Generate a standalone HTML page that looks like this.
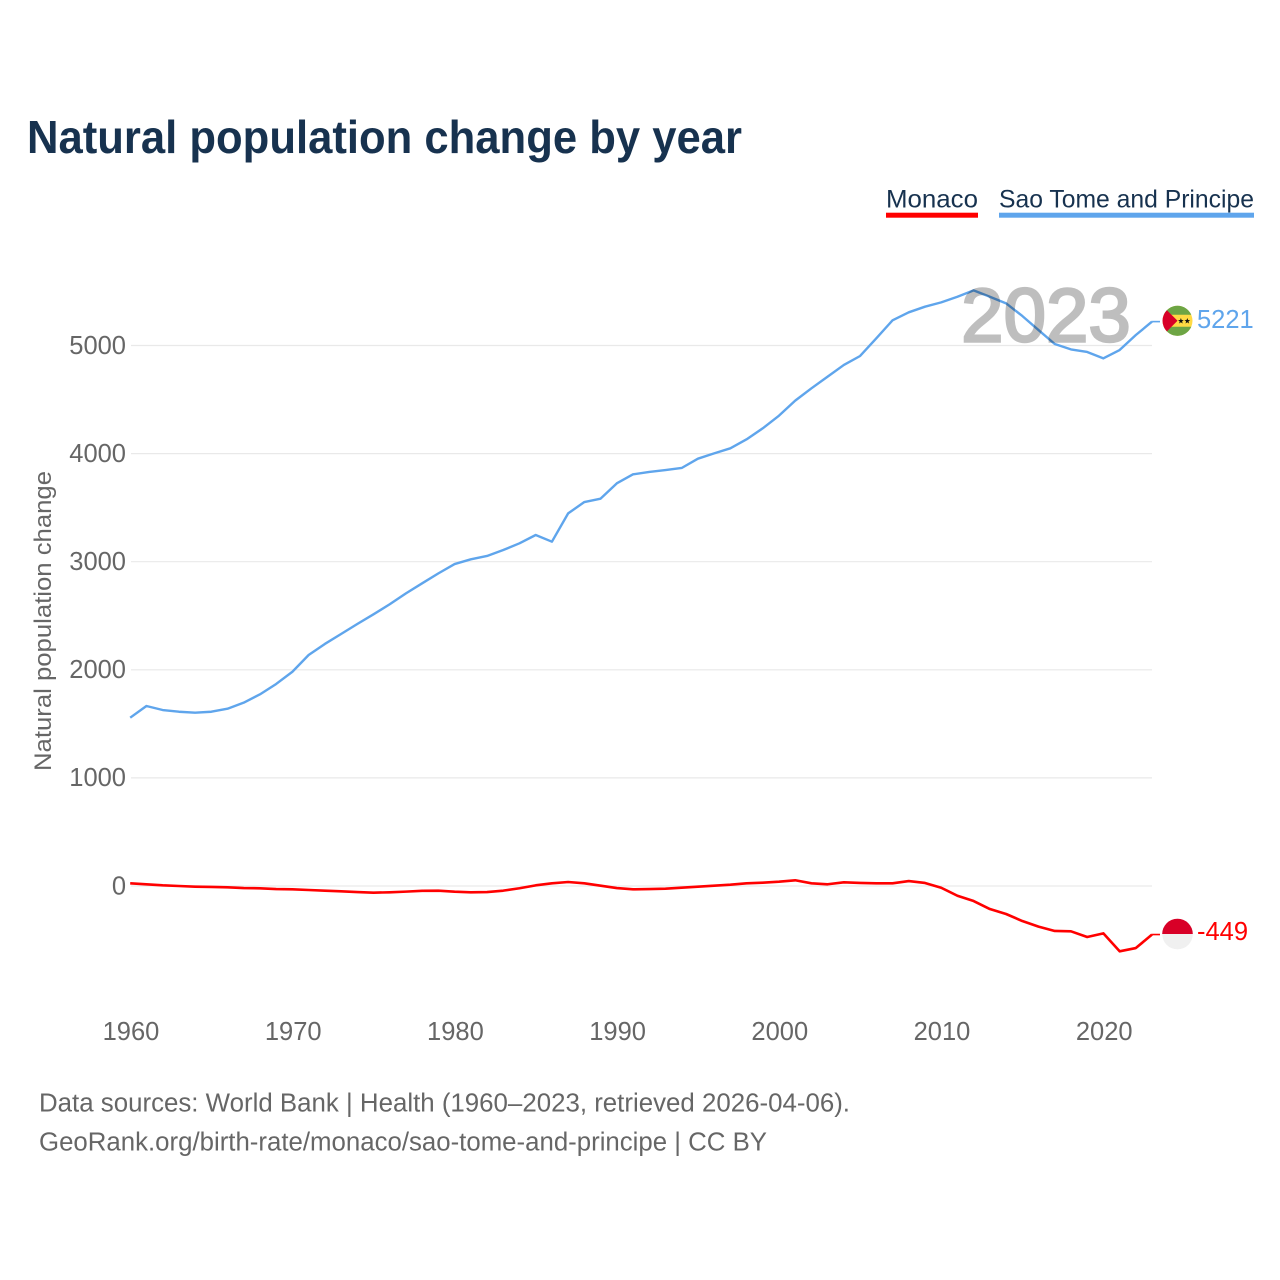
<!DOCTYPE html>
<html lang="en">
<head>
<meta charset="utf-8">
<title>Natural population change by year</title>
<style>
html,body{margin:0;padding:0;background:#fff;width:1280px;height:1280px;overflow:hidden}
svg{display:block;font-family:"Liberation Sans",Arial,sans-serif}
</style>
</head>
<body>
<svg id="chart" width="1280" height="1280" viewBox="0 0 1280 1280" xmlns="http://www.w3.org/2000/svg">
  <rect width="1280" height="1280" fill="#fff"/>
  <text x="27" y="153" font-size="46" font-weight="700" fill="#17324f" textLength="715" lengthAdjust="spacingAndGlyphs">Natural population change by year</text>

  <g>
    <text x="886" y="207.3" font-size="25" fill="#17324f" textLength="92" lengthAdjust="spacingAndGlyphs">Monaco</text>
    <rect x="886" y="212.7" width="92" height="5" fill="#ff0000"/>
  </g>
  <g>
    <text x="999" y="207.3" font-size="25" fill="#17324f" textLength="255" lengthAdjust="spacingAndGlyphs">Sao Tome and Principe</text>
    <rect x="999" y="212.7" width="255" height="5" fill="#5fa5ec"/>
  </g>

  <text transform="translate(51,771) rotate(-90)" font-size="24.5" fill="#666" textLength="300" lengthAdjust="spacingAndGlyphs">Natural population change</text>

  <g id="grid"></g>
  <g id="yticks"></g>
  <g id="xticks"></g>
  <g id="series"></g>
  <g id="ends"></g>

  <text x="961.2" y="341.5" font-size="76" fill="#000" stroke="#000" stroke-width="2.5" opacity="0.25" textLength="169.6" lengthAdjust="spacingAndGlyphs">2023</text>

  <text x="39" y="1111.5" font-size="25.5" fill="#666" textLength="811" lengthAdjust="spacingAndGlyphs">Data sources: World Bank | Health (1960–2023, retrieved 2026-04-06).</text>
  <text x="39" y="1150.5" font-size="25.5" fill="#666" textLength="728" lengthAdjust="spacingAndGlyphs">GeoRank.org/birth-rate/monaco/sao-tome-and-principe | CC BY</text>
</svg>
<script>
const firstYear = 1960;
const monacoValues = [25,16,6,0,-6,-9,-12,-19,-21,-28,-31,-37,-43,-49,-56,-62,-58,-52,-45,-43,-53,-58,-56,-43,-21,6,25,37,25,3,-19,-31,-28,-25,-16,-6,3,12,25,31,40,53,25,16,34,28,25,25,46,28,-16,-90,-139,-213,-259,-324,-376,-416,-419,-472,-438,-604,-574,-449];
const saoTomeValues = [1557,1665,1628,1612,1603,1612,1640,1696,1773,1869,1982,2137,2239,2331,2424,2513,2606,2707,2800,2892,2978,3022,3053,3108,3170,3247,3185,3447,3552,3583,3725,3808,3830,3848,3867,3953,4002,4049,4132,4234,4351,4490,4604,4712,4820,4903,5066,5233,5307,5359,5399,5451,5510,5451,5390,5273,5143,5014,4964,4940,4881,4958,5097,5221];
const yTickValues = [0,1000,2000,3000,4000,5000];
const xTickYears = [1960,1970,1980,1990,2000,2010,2020];

const NS = 'http://www.w3.org/2000/svg';
function xScale(year){ return 130.2 + (year - 1960) * 16.22; }
function yScale(v){ return 886 - v * 0.1081; }
function make(tag, attrs, parent){
  const el = document.createElementNS(NS, tag);
  for (const k in attrs) el.setAttribute(k, attrs[k]);
  parent.appendChild(el);
  return el;
}
function linePath(values){
  return values.map((v,i)=>(i?'L':'M')+xScale(firstYear+i).toFixed(2)+' '+yScale(v).toFixed(2)).join(' ');
}
function starPoints(cx, cy, r){
  const pts = [];
  for (let i = 0; i < 10; i++){
    const rad = i % 2 ? r * 0.42 : r;
    const a = -Math.PI / 2 + i * Math.PI / 5;
    pts.push((cx + rad * Math.cos(a)).toFixed(2) + ',' + (cy + rad * Math.sin(a)).toFixed(2));
  }
  return pts.join(' ');
}

const gridG = document.getElementById('grid');
const yG = document.getElementById('yticks');
const xG = document.getElementById('xticks');
const seriesG = document.getElementById('series');
const endsG = document.getElementById('ends');

yTickValues.forEach(v=>{
  const line = make('line',{x1:131,x2:1152,y1:yScale(v),y2:yScale(v),stroke:'#e9e9e9','stroke-width':1.2},gridG);
  
  
  const t = make('text',{x:126,y:yScale(v)+8.3,'text-anchor':'end','font-size':25.5,fill:'#666'},yG);
  
  
  t.textContent = v;
});

xTickYears.forEach(y=>{
  const t = make('text',{x:xScale(y)+0.8,y:1040,'text-anchor':'middle','font-size':25.5,fill:'#666'},xG);
  
  
  t.textContent = y;
});

const saoLine = make('path',{d:linePath(saoTomeValues),fill:'none',stroke:'#5fa5ec','stroke-width':2.4,'stroke-linejoin':'round'},seriesG);


const monLine = make('path',{d:linePath(monacoValues),fill:'none',stroke:'#ff0000','stroke-width':2.6,'stroke-linejoin':'round'},seriesG);



const lastX = xScale(firstYear + saoTomeValues.length - 1);
const cx = 1177.5;
const saoLast = saoTomeValues[saoTomeValues.length-1];
const monLast = monacoValues[monacoValues.length-1];
const saoY = yScale(saoLast);
const monY = yScale(monLast);

const saoStub = make('line',{x1:lastX,x2:1160,y1:saoY,y2:saoY,stroke:'#5fa5ec','stroke-width':1.6},endsG);


const monStub = make('line',{x1:lastX,x2:1160,y1:monY,y2:monY,stroke:'#ff0000','stroke-width':1.6},endsG);



/* Sao Tome flag */
const saoFlag = make('g',{transform:'translate('+cx+','+(saoY-0.8)+')'},endsG);


make('circle',{r:15,fill:'#ffda44'},saoFlag);
make('path',{d:'M-13.75 -6 A15 15 0 0 1 13.75 -6 Z',fill:'#6da544'},saoFlag);
make('path',{d:'M-13.75 6 A15 15 0 0 0 13.75 6 Z',fill:'#6da544'},saoFlag);
make('path',{d:'M-10.6 -10.6 L0 0 L-10.6 10.6 A15 15 0 0 1 -10.6 -10.6 Z',fill:'#d80027'},saoFlag);
make('polygon',{points:starPoints(3.4,0.2,3),fill:'#111'},saoFlag);
make('polygon',{points:starPoints(9.8,0.2,3),fill:'#111'},saoFlag);

/* Monaco flag */
const monFlag = make('g',{transform:'translate('+cx+','+(monY-0.5)+')'},endsG);


make('circle',{r:15.3,fill:'#f0f0f0'},monFlag);
make('path',{d:'M-15.3 0 A15.3 15.3 0 0 1 15.3 0 Z',fill:'#d80027'},monFlag);

const saoLabel = make('text',{x:1197,y:saoY+6.5,'font-size':25.5,fill:'#5fa5ec'},endsG);


saoLabel.textContent = saoLast;
const monLabel = make('text',{x:1197,y:monY+5.5,'font-size':25.5,fill:'#ff0000'},endsG);


monLabel.textContent = monLast;
</script>
</body>
</html>
